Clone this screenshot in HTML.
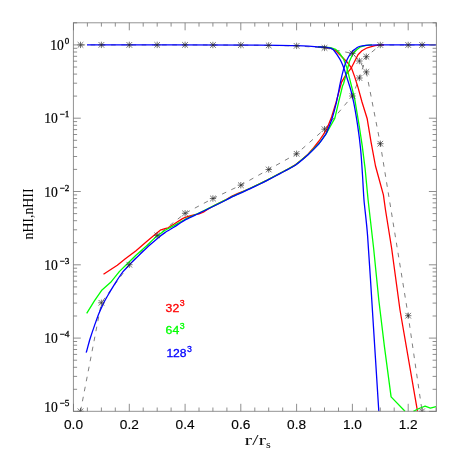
<!DOCTYPE html>
<html><head><meta charset="utf-8"><title>plot</title>
<style>html,body{margin:0;padding:0;background:#fff;font-family:"Liberation Sans",sans-serif;}svg{display:block;opacity:0.999;will-change:transform}</style>
</head><body>
<svg width="458" height="458" viewBox="0 0 458 458">
<defs><clipPath id="c"><rect x="73.3" y="21.8" width="363.1" height="390.1"/></clipPath></defs>
<rect width="458" height="458" fill="#fff"/>
<g clip-path="url(#c)">
<polyline points="80.5,411.3 101.4,302.8 129.3,264.7 157.2,235.4 185.1,213.3 212.9,198.5 240.8,185.2 268.7,169.5 296.6,153.8 324.5,129.2 352.4,96.0 359.4,78.0 366.3,56.7 380.3,45.0 408.2,45.0 422.1,45.0 436.0,44.9" fill="none" stroke="#484848" stroke-width="0.7" stroke-linejoin="round" stroke-linecap="butt" stroke-dasharray="4.6 5.6"/>
<polyline points="80.5,44.9 101.4,44.9 129.3,44.9 157.2,44.9 185.1,44.9 212.9,45.0 240.8,45.1 268.7,45.4 296.6,45.9 324.5,47.9 352.4,53.4 359.4,61.0 366.3,71.9 380.3,143.7 408.2,315.7 422.1,411.3" fill="none" stroke="#484848" stroke-width="0.7" stroke-linejoin="round" stroke-linecap="butt" stroke-dasharray="4.6 5.6"/>
<polyline points="103.5,274.2 117.3,265.2 125.0,259.0 135.7,250.9 146.4,241.7 155.6,234.0 160.9,229.8 165.0,228.6 168.0,227.8 173.7,224.3 182.5,218.6 185.3,217.3 190.0,216.0 195.0,214.6 199.0,213.8 204.0,211.8 209.0,208.4 213.1,206.2 226.2,199.6 232.0,196.0 238.0,193.3 245.0,190.7 251.8,187.5 260.0,183.7 267.2,180.1 280.0,173.3 288.0,169.1 295.7,164.6 302.0,159.6 308.0,154.2 313.5,148.0 319.0,141.0 323.0,135.2 326.6,129.4 331.6,117.0 335.9,102.9 340.1,87.6 341.6,82.2 346.2,74.3 351.4,67.8 354.7,61.2 358.0,54.7 361.9,50.7 367.2,47.8 375.0,45.7 381.0,44.9 384.0,44.9" fill="none" stroke="#ff0000" stroke-width="1.3" stroke-linejoin="round" stroke-linecap="butt" />
<polyline points="318.0,46.8 320.0,47.0 327.9,47.7 333.1,49.1 337.0,52.0 342.3,57.3 347.5,62.5 351.4,67.8 354.7,76.9 358.0,87.4 362.0,102.0 367.2,118.8 371.1,142.4 375.5,166.0 383.4,194.8 385.5,210.0 391.6,248.0 400.0,310.0 417.5,411.3" fill="none" stroke="#ff0000" stroke-width="1.3" stroke-linejoin="round" stroke-linecap="butt" />
<polyline points="86.7,313.3 94.4,300.8 102.0,289.9 110.7,282.3 119.5,271.4 125.0,266.0 135.7,255.5 146.4,246.0 155.6,237.1 164.7,230.5 173.9,225.6 185.3,219.2 195.6,214.5 200.0,212.5 213.1,206.2 226.2,199.7 232.0,196.6 239.3,193.3 251.8,187.5 260.0,183.7 267.2,180.1 280.0,173.3 288.0,169.1 295.7,164.7 307.8,154.7 318.7,143.8 325.0,135.4 327.0,132.3 334.8,118.4 338.8,101.4 342.5,86.0 343.6,83.5 346.9,71.7 349.5,61.2 352.8,54.0 356.7,49.7 360.6,46.8 366.0,45.3 372.0,44.9" fill="none" stroke="#00ff00" stroke-width="1.3" stroke-linejoin="round" stroke-linecap="butt" />
<polyline points="318.0,46.8 320.0,47.0 330.5,47.7 335.7,49.4 339.7,53.3 343.6,59.2 346.9,67.8 349.5,78.2 352.1,88.5 354.6,98.3 359.2,125.8 362.2,145.7 365.1,168.6 368.1,200.0 373.6,248.0 378.8,300.0 384.5,347.2 391.1,396.9 405.0,411.3" fill="none" stroke="#00ff00" stroke-width="1.3" stroke-linejoin="round" stroke-linecap="butt" />
<polyline points="413.4,411.3 419.0,408.5 425.1,406.1 430.4,408.2 436.0,406.7" fill="none" stroke="#00ff00" stroke-width="1.3" stroke-linejoin="round" stroke-linecap="butt" />
<path d="M86.0 352.5C86.1 352.3 86.2 352.7 86.7 351.0C87.2 349.3 89.0 342.1 90.0 339.0C91.0 335.9 93.3 329.0 94.4 325.9C95.5 322.8 97.6 316.6 98.7 313.9C99.8 311.2 101.9 306.6 103.1 304.1C104.3 301.7 107.0 296.9 108.5 294.3C110.0 291.7 113.5 286.0 115.1 283.4C116.7 280.8 120.4 275.2 121.6 273.5C122.8 271.8 123.8 270.8 125.0 269.5C126.2 268.2 129.2 264.9 131.1 263.0C133.0 261.1 138.0 256.2 140.3 254.0C142.6 251.8 147.2 247.4 149.5 245.3C151.8 243.2 156.7 239.0 158.6 237.4C160.5 235.8 163.1 233.9 165.0 232.6C166.9 231.3 171.8 228.5 173.7 227.3C175.6 226.1 178.6 224.1 180.0 223.2C181.4 222.3 183.4 220.8 185.3 219.8C187.2 218.8 193.8 215.8 195.6 214.9C197.4 214.0 197.8 213.9 200.0 212.8C202.2 211.8 209.8 208.1 213.1 206.5C216.4 204.9 223.8 201.2 226.2 200.0C228.6 198.8 230.4 197.7 232.0 196.9C233.6 196.1 236.8 194.7 239.3 193.6C241.8 192.5 249.2 189.0 251.8 187.8C254.4 186.6 258.1 184.9 260.0 184.0C261.9 183.1 264.7 181.7 267.2 180.4C269.7 179.1 277.4 175.0 280.0 173.6C282.6 172.2 286.0 170.5 288.0 169.4C290.0 168.3 293.2 166.8 295.7 165.0C298.2 163.2 304.9 157.6 307.8 155.0C310.6 152.4 316.5 146.5 318.7 144.1C320.9 141.7 324.0 136.9 325.0 135.4C326.0 133.9 326.1 134.0 326.9 132.0C327.7 130.0 330.5 123.3 331.7 119.7C332.9 116.1 335.2 107.6 336.3 102.9C337.4 98.2 339.6 86.2 340.5 82.0C341.4 77.8 342.8 71.9 343.6 69.1C344.4 66.3 346.0 61.9 346.9 59.9C347.8 57.9 349.8 54.6 350.8 53.3C351.8 52.0 353.6 50.2 354.7 49.4C355.8 48.5 357.9 47.0 359.3 46.5C360.7 46.0 363.3 45.5 365.9 45.3C368.5 45.1 371.2 44.9 380.0 44.9C388.8 44.9 429.0 44.9 436.0 44.9" fill="none" stroke="#0000ff" stroke-width="1.3" stroke-linejoin="round"/>
<path d="M87.0 44.9C108.6 44.9 233.9 45.0 260.0 45.1C286.1 45.2 288.5 45.5 296.0 45.7C303.5 45.9 316.0 46.8 320.0 47.0C324.0 47.2 326.3 47.4 327.9 47.7C329.5 48.0 332.0 48.5 333.1 49.4C334.2 50.3 336.0 53.2 337.0 54.7C338.0 56.2 340.1 59.4 341.0 61.2C341.9 63.0 343.4 66.8 344.2 69.1C345.0 71.4 346.7 76.9 347.5 79.5C348.3 82.1 350.0 87.1 350.8 90.0C351.6 92.9 352.9 98.4 353.8 102.9C354.7 107.4 356.8 119.9 357.7 125.8C358.6 131.7 360.1 143.8 360.7 150.0C361.3 156.2 362.1 168.8 362.5 175.0C362.9 181.2 363.4 192.4 364.0 200.0C364.6 207.6 366.6 222.2 367.6 236.0C368.7 249.8 371.0 288.1 372.4 310.0C373.8 331.9 378.0 398.6 378.8 411.3" fill="none" stroke="#0000ff" stroke-width="1.3" stroke-linejoin="round"/>
<path d="M77.3 411.3H83.7M80.5 408.1V414.5M77.7 408.5L83.3 414.1M77.7 414.1L83.3 408.5" stroke="#2a2a2a" stroke-width="0.65" fill="none"/>
<path d="M98.2 302.8H104.6M101.4 299.6V306.0M98.6 300.0L104.2 305.6M98.6 305.6L104.2 300.0" stroke="#2a2a2a" stroke-width="0.65" fill="none"/>
<path d="M126.1 264.7H132.5M129.3 261.5V267.9M126.5 261.9L132.1 267.5M126.5 267.5L132.1 261.9" stroke="#2a2a2a" stroke-width="0.65" fill="none"/>
<path d="M154.0 235.4H160.4M157.2 232.2V238.6M154.4 232.6L160.0 238.2M154.4 238.2L160.0 232.6" stroke="#2a2a2a" stroke-width="0.65" fill="none"/>
<path d="M181.9 213.3H188.3M185.1 210.1V216.5M182.2 210.5L187.9 216.1M182.2 216.1L187.9 210.5" stroke="#2a2a2a" stroke-width="0.65" fill="none"/>
<path d="M209.8 198.5H216.1M212.9 195.3V201.7M210.1 195.7L215.8 201.3M210.1 201.3L215.8 195.7" stroke="#2a2a2a" stroke-width="0.65" fill="none"/>
<path d="M237.6 185.2H244.0M240.8 182.0V188.4M238.0 182.4L243.7 188.0M238.0 188.0L243.7 182.4" stroke="#2a2a2a" stroke-width="0.65" fill="none"/>
<path d="M265.5 169.5H271.9M268.7 166.3V172.7M265.9 166.7L271.5 172.3M265.9 172.3L271.5 166.7" stroke="#2a2a2a" stroke-width="0.65" fill="none"/>
<path d="M293.4 153.8H299.8M296.6 150.6V157.0M293.8 151.0L299.4 156.6M293.8 156.6L299.4 151.0" stroke="#2a2a2a" stroke-width="0.65" fill="none"/>
<path d="M321.3 129.2H327.7M324.5 126.0V132.4M321.7 126.4L327.3 132.0M321.7 132.0L327.3 126.4" stroke="#2a2a2a" stroke-width="0.65" fill="none"/>
<path d="M349.2 96.0H355.6M352.4 92.8V99.2M349.6 93.2L355.2 98.8M349.6 98.8L355.2 93.2" stroke="#2a2a2a" stroke-width="0.65" fill="none"/>
<path d="M356.2 78.0H362.6M359.4 74.8V81.2M356.6 75.2L362.2 80.8M356.6 80.8L362.2 75.2" stroke="#2a2a2a" stroke-width="0.65" fill="none"/>
<path d="M363.1 56.7H369.5M366.3 53.5V59.9M363.5 53.9L369.2 59.5M363.5 59.5L369.2 53.9" stroke="#2a2a2a" stroke-width="0.65" fill="none"/>
<path d="M377.1 45.0H383.5M380.3 41.8V48.2M377.5 42.2L383.1 47.8M377.5 47.8L383.1 42.2" stroke="#2a2a2a" stroke-width="0.65" fill="none"/>
<path d="M405.0 45.0H411.4M408.2 41.8V48.2M405.4 42.2L411.0 47.8M405.4 47.8L411.0 42.2" stroke="#2a2a2a" stroke-width="0.65" fill="none"/>
<path d="M418.9 45.0H425.3M422.1 41.8V48.2M419.3 42.2L424.9 47.8M419.3 47.8L424.9 42.2" stroke="#2a2a2a" stroke-width="0.65" fill="none"/>
<path d="M77.3 44.9H83.7M80.5 41.7V48.1M77.7 42.1L83.3 47.7M77.7 47.7L83.3 42.1" stroke="#2a2a2a" stroke-width="0.65" fill="none"/>
<path d="M98.2 44.9H104.6M101.4 41.7V48.1M98.6 42.1L104.2 47.7M98.6 47.7L104.2 42.1" stroke="#2a2a2a" stroke-width="0.65" fill="none"/>
<path d="M126.1 44.9H132.5M129.3 41.7V48.1M126.5 42.1L132.1 47.7M126.5 47.7L132.1 42.1" stroke="#2a2a2a" stroke-width="0.65" fill="none"/>
<path d="M154.0 44.9H160.4M157.2 41.7V48.1M154.4 42.1L160.0 47.7M154.4 47.7L160.0 42.1" stroke="#2a2a2a" stroke-width="0.65" fill="none"/>
<path d="M181.9 44.9H188.3M185.1 41.7V48.1M182.2 42.1L187.9 47.7M182.2 47.7L187.9 42.1" stroke="#2a2a2a" stroke-width="0.65" fill="none"/>
<path d="M209.8 45.0H216.1M212.9 41.8V48.2M210.1 42.2L215.8 47.8M210.1 47.8L215.8 42.2" stroke="#2a2a2a" stroke-width="0.65" fill="none"/>
<path d="M237.6 45.1H244.0M240.8 41.9V48.3M238.0 42.3L243.7 47.9M238.0 47.9L243.7 42.3" stroke="#2a2a2a" stroke-width="0.65" fill="none"/>
<path d="M265.5 45.4H271.9M268.7 42.2V48.6M265.9 42.6L271.5 48.2M265.9 48.2L271.5 42.6" stroke="#2a2a2a" stroke-width="0.65" fill="none"/>
<path d="M293.4 45.9H299.8M296.6 42.7V49.1M293.8 43.1L299.4 48.7M293.8 48.7L299.4 43.1" stroke="#2a2a2a" stroke-width="0.65" fill="none"/>
<path d="M321.3 47.9H327.7M324.5 44.7V51.1M321.7 45.1L327.3 50.7M321.7 50.7L327.3 45.1" stroke="#2a2a2a" stroke-width="0.65" fill="none"/>
<path d="M349.2 53.4H355.6M352.4 50.2V56.6M349.6 50.6L355.2 56.2M349.6 56.2L355.2 50.6" stroke="#2a2a2a" stroke-width="0.65" fill="none"/>
<path d="M356.2 61.0H362.6M359.4 57.8V64.2M356.6 58.2L362.2 63.8M356.6 63.8L362.2 58.2" stroke="#2a2a2a" stroke-width="0.65" fill="none"/>
<path d="M363.1 71.9H369.5M366.3 68.7V75.1M363.5 69.1L369.2 74.7M363.5 74.7L369.2 69.1" stroke="#2a2a2a" stroke-width="0.65" fill="none"/>
<path d="M377.1 143.7H383.5M380.3 140.5V146.9M377.5 140.9L383.1 146.5M377.5 146.5L383.1 140.9" stroke="#2a2a2a" stroke-width="0.65" fill="none"/>
<path d="M405.0 315.7H411.4M408.2 312.5V318.9M405.4 312.9L411.0 318.5M405.4 318.5L411.0 312.9" stroke="#2a2a2a" stroke-width="0.65" fill="none"/>
<path d="M418.9 411.3H425.3M422.1 408.1V414.5M419.3 408.5L424.9 414.1M419.3 414.1L424.9 408.5" stroke="#2a2a2a" stroke-width="0.65" fill="none"/>
</g>
<rect x="73.4" y="22.8" width="363" height="388.5" fill="none" stroke="#8e8e8e" stroke-width="0.95"/>
<path d="M73.5 411.3v-7.5M73.5 22.8v7.5M87.4 411.3v-3.8M87.4 22.8v3.8M101.4 411.3v-3.8M101.4 22.8v3.8M115.3 411.3v-3.8M115.3 22.8v3.8M129.3 411.3v-7.5M129.3 22.8v7.5M143.2 411.3v-3.8M143.2 22.8v3.8M157.2 411.3v-3.8M157.2 22.8v3.8M171.1 411.3v-3.8M171.1 22.8v3.8M185.1 411.3v-7.5M185.1 22.8v7.5M199.0 411.3v-3.8M199.0 22.8v3.8M212.9 411.3v-3.8M212.9 22.8v3.8M226.9 411.3v-3.8M226.9 22.8v3.8M240.8 411.3v-7.5M240.8 22.8v7.5M254.8 411.3v-3.8M254.8 22.8v3.8M268.7 411.3v-3.8M268.7 22.8v3.8M282.7 411.3v-3.8M282.7 22.8v3.8M296.6 411.3v-7.5M296.6 22.8v7.5M310.6 411.3v-3.8M310.6 22.8v3.8M324.5 411.3v-3.8M324.5 22.8v3.8M338.5 411.3v-3.8M338.5 22.8v3.8M352.4 411.3v-7.5M352.4 22.8v7.5M366.3 411.3v-3.8M366.3 22.8v3.8M380.3 411.3v-3.8M380.3 22.8v3.8M394.2 411.3v-3.8M394.2 22.8v3.8M408.2 411.3v-7.5M408.2 22.8v7.5M422.1 411.3v-3.8M422.1 22.8v3.8M436.1 411.3v-3.8M436.1 22.8v3.8M73.3 44.9h7.5M436.4 44.9h-7.5M73.3 22.8h3.8M436.4 22.8h-3.8M73.3 118.2h7.5M436.4 118.2h-7.5M73.3 96.1h3.8M436.4 96.1h-3.8M73.3 83.2h3.8M436.4 83.2h-3.8M73.3 74.1h3.8M436.4 74.1h-3.8M73.3 67.0h3.8M436.4 67.0h-3.8M73.3 61.2h3.8M436.4 61.2h-3.8M73.3 56.3h3.8M436.4 56.3h-3.8M73.3 52.0h3.8M436.4 52.0h-3.8M73.3 48.3h3.8M436.4 48.3h-3.8M73.3 191.5h7.5M436.4 191.5h-7.5M73.3 169.4h3.8M436.4 169.4h-3.8M73.3 156.5h3.8M436.4 156.5h-3.8M73.3 147.4h3.8M436.4 147.4h-3.8M73.3 140.3h3.8M436.4 140.3h-3.8M73.3 134.5h3.8M436.4 134.5h-3.8M73.3 129.6h3.8M436.4 129.6h-3.8M73.3 125.3h3.8M436.4 125.3h-3.8M73.3 121.6h3.8M436.4 121.6h-3.8M73.3 264.8h7.5M436.4 264.8h-7.5M73.3 242.7h3.8M436.4 242.7h-3.8M73.3 229.8h3.8M436.4 229.8h-3.8M73.3 220.7h3.8M436.4 220.7h-3.8M73.3 213.6h3.8M436.4 213.6h-3.8M73.3 207.8h3.8M436.4 207.8h-3.8M73.3 202.9h3.8M436.4 202.9h-3.8M73.3 198.6h3.8M436.4 198.6h-3.8M73.3 194.9h3.8M436.4 194.9h-3.8M73.3 338.1h7.5M436.4 338.1h-7.5M73.3 316.0h3.8M436.4 316.0h-3.8M73.3 303.1h3.8M436.4 303.1h-3.8M73.3 294.0h3.8M436.4 294.0h-3.8M73.3 286.9h3.8M436.4 286.9h-3.8M73.3 281.1h3.8M436.4 281.1h-3.8M73.3 276.2h3.8M436.4 276.2h-3.8M73.3 271.9h3.8M436.4 271.9h-3.8M73.3 268.2h3.8M436.4 268.2h-3.8M73.3 411.4h7.5M436.4 411.4h-7.5M73.3 389.3h3.8M436.4 389.3h-3.8M73.3 376.4h3.8M436.4 376.4h-3.8M73.3 367.3h3.8M436.4 367.3h-3.8M73.3 360.2h3.8M436.4 360.2h-3.8M73.3 354.4h3.8M436.4 354.4h-3.8M73.3 349.5h3.8M436.4 349.5h-3.8M73.3 345.2h3.8M436.4 345.2h-3.8M73.3 341.5h3.8M436.4 341.5h-3.8" stroke="#727272" stroke-width="0.8" fill="none"/>
<text x="50.3" y="49.9" font-family="Liberation Serif" font-size="14.6" fill="#000" stroke="#000" stroke-width="0.2" textLength="13.6" lengthAdjust="spacingAndGlyphs">10</text>
<text x="64.8" y="44.0" font-family="Liberation Serif" font-size="9" fill="#000" stroke="#000" stroke-width="0.3">0</text>
<text x="44.3" y="123.2" font-family="Liberation Serif" font-size="14.6" fill="#000" stroke="#000" stroke-width="0.2" textLength="13.6" lengthAdjust="spacingAndGlyphs">10</text>
<text x="59.6" y="117.3" font-family="Liberation Serif" font-size="9" fill="#000" stroke="#000" stroke-width="0.3" textLength="9.8" lengthAdjust="spacingAndGlyphs">−1</text>
<text x="44.3" y="196.5" font-family="Liberation Serif" font-size="14.6" fill="#000" stroke="#000" stroke-width="0.2" textLength="13.6" lengthAdjust="spacingAndGlyphs">10</text>
<text x="59.6" y="190.6" font-family="Liberation Serif" font-size="9" fill="#000" stroke="#000" stroke-width="0.3" textLength="9.8" lengthAdjust="spacingAndGlyphs">−2</text>
<text x="44.3" y="269.8" font-family="Liberation Serif" font-size="14.6" fill="#000" stroke="#000" stroke-width="0.2" textLength="13.6" lengthAdjust="spacingAndGlyphs">10</text>
<text x="59.6" y="263.9" font-family="Liberation Serif" font-size="9" fill="#000" stroke="#000" stroke-width="0.3" textLength="9.8" lengthAdjust="spacingAndGlyphs">−3</text>
<text x="44.3" y="343.1" font-family="Liberation Serif" font-size="14.6" fill="#000" stroke="#000" stroke-width="0.2" textLength="13.6" lengthAdjust="spacingAndGlyphs">10</text>
<text x="59.6" y="337.2" font-family="Liberation Serif" font-size="9" fill="#000" stroke="#000" stroke-width="0.3" textLength="9.8" lengthAdjust="spacingAndGlyphs">−4</text>
<text x="44.3" y="411.6" font-family="Liberation Serif" font-size="14.6" fill="#000" stroke="#000" stroke-width="0.2" textLength="13.6" lengthAdjust="spacingAndGlyphs">10</text>
<text x="59.6" y="405.7" font-family="Liberation Serif" font-size="9" fill="#000" stroke="#000" stroke-width="0.3" textLength="9.8" lengthAdjust="spacingAndGlyphs">−5</text>
<text x="73.5" y="429.1" font-family="Liberation Sans" font-size="11.9" fill="#000" stroke="#000" stroke-width="0.12" text-anchor="middle" textLength="19.0" lengthAdjust="spacingAndGlyphs">0.0</text>
<text x="129.3" y="429.1" font-family="Liberation Sans" font-size="11.9" fill="#000" stroke="#000" stroke-width="0.12" text-anchor="middle" textLength="19.0" lengthAdjust="spacingAndGlyphs">0.2</text>
<text x="185.1" y="429.1" font-family="Liberation Sans" font-size="11.9" fill="#000" stroke="#000" stroke-width="0.12" text-anchor="middle" textLength="19.0" lengthAdjust="spacingAndGlyphs">0.4</text>
<text x="240.8" y="429.1" font-family="Liberation Sans" font-size="11.9" fill="#000" stroke="#000" stroke-width="0.12" text-anchor="middle" textLength="19.0" lengthAdjust="spacingAndGlyphs">0.6</text>
<text x="296.6" y="429.1" font-family="Liberation Sans" font-size="11.9" fill="#000" stroke="#000" stroke-width="0.12" text-anchor="middle" textLength="19.0" lengthAdjust="spacingAndGlyphs">0.8</text>
<text x="352.4" y="429.1" font-family="Liberation Sans" font-size="11.9" fill="#000" stroke="#000" stroke-width="0.12" text-anchor="middle" textLength="19.0" lengthAdjust="spacingAndGlyphs">1.0</text>
<text x="408.2" y="429.1" font-family="Liberation Sans" font-size="11.9" fill="#000" stroke="#000" stroke-width="0.12" text-anchor="middle" textLength="19.0" lengthAdjust="spacingAndGlyphs">1.2</text>
<text x="244.6" y="444.8" font-family="Liberation Serif" font-size="15.5" fill="#111" textLength="21.4" lengthAdjust="spacingAndGlyphs">r/r</text>
<text x="265.9" y="447.7" font-family="Liberation Serif" font-size="10" fill="#111" textLength="4.8" lengthAdjust="spacingAndGlyphs">s</text>
<text transform="translate(33.2,239.5) rotate(-90)" font-family="Liberation Serif" font-size="14.3" fill="#000" textLength="51" lengthAdjust="spacingAndGlyphs">nHI,nHII</text>
<text x="165.6" y="311.8" font-family="Liberation Sans" font-size="11" fill="#ff0000" stroke="#ff0000" stroke-width="0.28" textLength="13.6" lengthAdjust="spacingAndGlyphs">32</text>
<text x="179.7" y="306.3" font-family="Liberation Sans" font-size="8.8" fill="#ff0000" stroke="#ff0000" stroke-width="0.3">3</text>
<text x="165.6" y="334.0" font-family="Liberation Sans" font-size="11" fill="#00ff00" stroke="#00ff00" stroke-width="0.28" textLength="13.6" lengthAdjust="spacingAndGlyphs">64</text>
<text x="179.7" y="328.5" font-family="Liberation Sans" font-size="8.8" fill="#00ff00" stroke="#00ff00" stroke-width="0.3">3</text>
<text x="166.4" y="357.2" font-family="Liberation Sans" font-size="11" fill="#0000ff" stroke="#0000ff" stroke-width="0.28" textLength="20.2" lengthAdjust="spacingAndGlyphs">128</text>
<text x="187.1" y="351.7" font-family="Liberation Sans" font-size="8.8" fill="#0000ff" stroke="#0000ff" stroke-width="0.3">3</text>
</svg>
</body></html>
